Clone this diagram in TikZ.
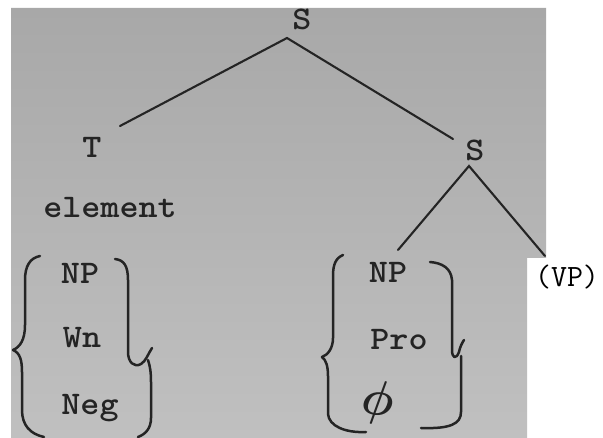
\documentclass[tikz,border=0pt]{standalone}
\usepackage{fontspec}
\newfontfamily\twfam{lmmonolt10-bold.otf}[FakeStretch=1.1]
\newcommand{\boldphi}{{\fontsize{24.88}{26}\selectfont\mathversion{bold}$\phi$}}
\definecolor{ink}{RGB}{36,36,36}
\definecolor{scanTop}{RGB}{168,168,168}
\definecolor{scanBot}{RGB}{192,192,192}
\newcommand{\twfont}{\twfam\fontsize{33}{33}\selectfont}
\tikzset{
  tw/.style={font=\twfont, text=ink, inner sep=0pt},
  branch/.style={draw=ink, line width=2.1pt, line cap=round},
  brace/.style={draw=ink, line width=2.5pt, line cap=round, line join=round},
}
\begin{document}
\begin{tikzpicture}[x=1pt,y=-1pt]
\useasboundingbox (0,0) rectangle (603,438);
\fill[white] (0,0) rectangle (603,438);
\shade[top color=scanTop, bottom color=scanBot]
  (11,8) -- (546,8) -- (546,258) -- (527,258) -- (527,438) -- (11,438) -- cycle;

% tree labels
\node[tw] (S0) at (302,19) {S};
\node[tw] (T) at (92,147) {T};
\node[tw] (S1) at (475,150) {S};
\node[tw, anchor=base] (elem) at (110,218) {element};

% left alternatives
\node[tw, anchor=base] (NPa) at (80,284) {NP};
\node[tw, anchor=base] (Wn) at (82,348) {Wn};
\node[tw, anchor=base] (Neg) at (90,415) {Neg};

% right alternatives
\node[tw, anchor=base] (NPb) at (388,283) {NP};
\node[tw, anchor=base] (Pro) at (399,350) {Pro};
\node[text=ink, inner sep=0pt, xscale=1.8, yscale=2.0, rotate=-8] (nullset) at (378,403) {\boldphi};

\node[font=\ttfamily\fontsize{31}{31}\selectfont, text=black, inner sep=0pt, anchor=base] (VP) at (567,287) {(VP)};

% branch end points
\coordinate (s0b) at (287,38);
\coordinate (tT) at (120,126);
\coordinate (tS1) at (453,139);
\coordinate (s1b) at (469,166);
\coordinate (tNP) at (398,250);
\coordinate (tVP) at (545,256);

\draw[branch] (tT) -- (s0b) -- (tS1);
\draw[branch] (tNP) -- (s1b) -- (tVP);

% left group braces
\draw[brace] (40,256) .. controls (30,258) and (25,266) .. (25,280)
  -- (25,325) .. controls (25,340) and (20,347) .. (13,350)
  .. controls (20,353) and (22,360) .. (22,372)
  -- (22,410) .. controls (22,425) and (30,434) .. (44,437);
\draw[brace] (115,259) .. controls (124,260) and (128,266) .. (128,280)
  -- (128,352) .. controls (128,362) and (134,368) .. (141,364)
  .. controls (146,361) and (148,354) .. (152,348);
\draw[brace] (148,360) .. controls (150,366) and (151,372) .. (151,382)
  -- (151,418) .. controls (151,428) and (146,434) .. (138,437);

% right group braces
\draw[brace] (343,255) .. controls (336,258) and (333,264) .. (333,276)
  -- (333,338) .. controls (333,348) and (328,355) .. (322,357)
  .. controls (326,360) and (328,366) .. (328,376)
  -- (328,414) .. controls (329,426) and (345,433) .. (366,432);
\draw[brace] (430,262) .. controls (442,263) and (451,268) .. (452,280)
  -- (452,350) .. controls (452,358) and (456,360) .. (459,352)
  .. controls (460,347) and (462,343) .. (464,340);
\draw[brace] (461,356) -- (461,412) .. controls (461,424) and (450,429) .. (421,428);
\end{tikzpicture}
\end{document}
